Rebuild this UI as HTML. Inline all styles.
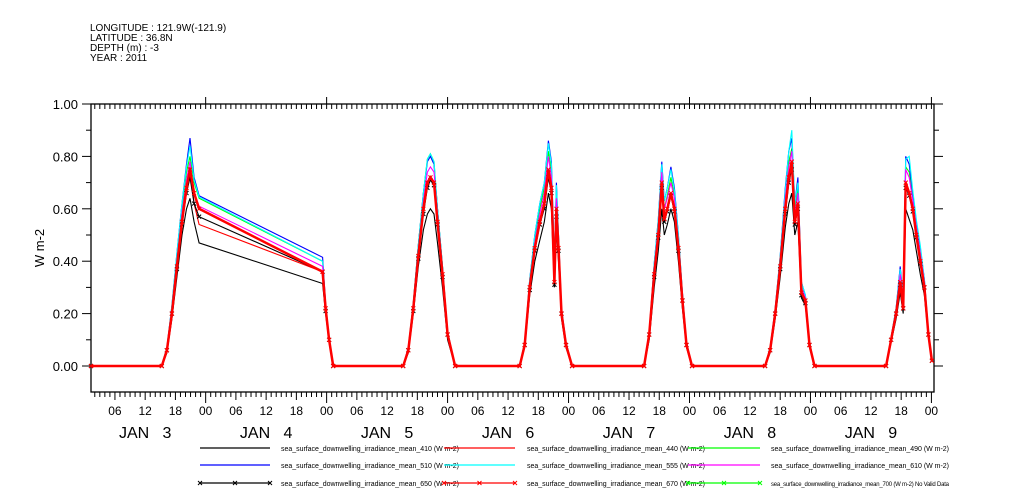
<!DOCTYPE html>
<html><head><meta charset="utf-8"><style>
body{margin:0;background:#fff;}
svg{display:block;font-family:"Liberation Sans",sans-serif;}
</style></head><body>
<svg id="chart" width="1009" height="504" viewBox="0 0 1009 504" xmlns="http://www.w3.org/2000/svg">
<g font-size="10" fill="#000">
<text x="90" y="31">LONGITUDE : 121.9W(-121.9)</text>
<text x="90" y="41">LATITUDE : 36.8N</text>
<text x="90" y="51">DEPTH (m) : -3</text>
<text x="90" y="61">YEAR : 2011</text>
</g>
<text x="44" y="248" font-size="13" text-anchor="middle" transform="rotate(-90 44 248)">W m-2</text>
<g id="axes"></g>
<g id="series"></g>
<g id="legend"></g>
</svg>
<script>
const times = [1.25,15.3,16.3,17.3,18.3,19.3,20.2,20.9,21.7,22.7,47.2,47.8,48.5,49.3,
63.2,64.2,65.2,66.2,67.2,68.0,68.6,69.3,70.0,71.0,72.0,73.5,
86.3,87.3,88.3,89.3,90.3,91.2,92.0,92.6,93.2,93.6,94.0,94.6,95.5,96.7,
111.0,112.0,113.0,113.8,114.5,115.0,115.6,116.3,117.0,117.8,118.6,119.4,120.5,
135.0,136.0,137.0,138.0,139.0,139.7,140.3,140.9,141.5,142.2,143.0,143.8,144.8,
159.0,160.0,161.0,161.8,162.4,162.9,163.6,164.3,165.0,165.8,166.6,167.4,168.1];
const s410 = [0,0,0.05,0.18,0.34,0.5,0.6,0.64,0.55,0.47,0.315,0.2,0.09,0,
0,0.05,0.2,0.38,0.52,0.58,0.6,0.58,0.47,0.3,0.1,0,
0,0.07,0.27,0.4,0.48,0.55,0.66,0.6,0.3,0.52,0.4,0.18,0.07,0,
0,0.1,0.3,0.44,0.6,0.5,0.54,0.6,0.55,0.4,0.22,0.07,0,
0,0.05,0.18,0.34,0.53,0.62,0.66,0.5,0.55,0.26,0.23,0.07,0,
0,0.09,0.18,0.28,0.2,0.6,0.56,0.52,0.44,0.35,0.27,0.11,0.02];
const s440 = [0,0,0.06,0.2,0.38,0.55,0.68,0.76,0.62,0.54,0.36,0.21,0.1,0,
0,0.06,0.22,0.42,0.6,0.7,0.72,0.70,0.55,0.35,0.12,0,
0,0.08,0.3,0.45,0.55,0.62,0.74,0.67,0.32,0.58,0.44,0.2,0.08,0,
0,0.12,0.35,0.5,0.69,0.56,0.6,0.66,0.6,0.45,0.25,0.08,0,
0,0.06,0.2,0.38,0.6,0.72,0.77,0.55,0.62,0.28,0.25,0.08,0,
0,0.1,0.2,0.32,0.22,0.7,0.66,0.6,0.5,0.4,0.3,0.12,0.02];
const s490 = [0,0,0.07,0.22,0.42,0.6,0.74,0.8,0.7,0.64,0.40,0.23,0.1,0,
0,0.07,0.24,0.46,0.66,0.79,0.81,0.78,0.6,0.38,0.13,0,
0,0.09,0.32,0.49,0.6,0.68,0.82,0.74,0.38,0.66,0.48,0.21,0.09,0,
0,0.13,0.38,0.54,0.75,0.6,0.65,0.72,0.65,0.48,0.27,0.09,0,
0,0.07,0.21,0.41,0.65,0.78,0.83,0.6,0.68,0.3,0.26,0.09,0,
0,0.11,0.21,0.36,0.25,0.76,0.74,0.64,0.54,0.44,0.32,0.13,0.02];
const s510 = [0,0,0.07,0.23,0.43,0.62,0.77,0.87,0.72,0.65,0.415,0.24,0.1,0,
0,0.07,0.24,0.46,0.66,0.78,0.8,0.77,0.6,0.38,0.13,0,
0,0.09,0.33,0.5,0.62,0.7,0.86,0.78,0.4,0.7,0.5,0.22,0.09,0,
0,0.13,0.39,0.56,0.78,0.63,0.68,0.76,0.68,0.5,0.28,0.09,0,
0,0.07,0.22,0.42,0.68,0.82,0.87,0.62,0.72,0.32,0.27,0.09,0,
0,0.11,0.22,0.38,0.26,0.8,0.77,0.66,0.55,0.45,0.33,0.13,0.02];
const s555 = [0,0,0.07,0.23,0.43,0.62,0.76,0.84,0.71,0.645,0.40,0.23,0.1,0,
0,0.07,0.24,0.46,0.66,0.79,0.81,0.78,0.6,0.38,0.13,0,
0,0.09,0.33,0.5,0.62,0.7,0.85,0.77,0.4,0.69,0.5,0.22,0.09,0,
0,0.13,0.39,0.56,0.77,0.63,0.68,0.75,0.67,0.5,0.28,0.09,0,
0,0.07,0.22,0.42,0.67,0.82,0.9,0.62,0.7,0.32,0.27,0.09,0,
0,0.11,0.22,0.37,0.26,0.79,0.8,0.67,0.56,0.46,0.33,0.13,0.02];
const s610 = [0,0,0.06,0.21,0.4,0.58,0.71,0.78,0.66,0.61,0.38,0.22,0.1,0,
0,0.07,0.23,0.44,0.63,0.74,0.76,0.74,0.58,0.37,0.12,0,
0,0.08,0.31,0.47,0.58,0.66,0.8,0.72,0.35,0.64,0.47,0.21,0.08,0,
0,0.12,0.37,0.53,0.74,0.6,0.64,0.7,0.64,0.47,0.26,0.08,0,
0,0.06,0.21,0.4,0.64,0.76,0.82,0.58,0.66,0.3,0.26,0.08,0,
0,0.1,0.21,0.35,0.25,0.75,0.72,0.63,0.53,0.43,0.32,0.12,0.02];
const s650 = [0,0,0.06,0.2,0.37,0.54,0.66,0.72,0.62,0.57,0.36,0.21,0.1,0,
0,0.06,0.21,0.41,0.58,0.68,0.71,0.69,0.54,0.34,0.12,0,
0,0.08,0.29,0.44,0.54,0.6,0.72,0.66,0.31,0.57,0.44,0.2,0.08,0,
0,0.12,0.34,0.49,0.68,0.55,0.59,0.65,0.59,0.44,0.25,0.08,0,
0,0.06,0.2,0.37,0.58,0.7,0.75,0.54,0.6,0.27,0.24,0.08,0,
0,0.1,0.2,0.31,0.22,0.68,0.65,0.59,0.49,0.39,0.3,0.12,0.02];
const s670 = [0,0,0.06,0.2,0.38,0.55,0.68,0.75,0.66,0.6,0.36,0.22,0.1,0,
0,0.06,0.22,0.42,0.6,0.7,0.72,0.70,0.55,0.35,0.12,0,
0,0.08,0.3,0.45,0.55,0.62,0.75,0.68,0.32,0.6,0.45,0.2,0.08,0,
0,0.12,0.35,0.5,0.7,0.56,0.6,0.66,0.6,0.45,0.25,0.08,0,
0,0.06,0.2,0.38,0.6,0.72,0.78,0.55,0.62,0.28,0.25,0.08,0,
0,0.1,0.2,0.32,0.22,0.7,0.66,0.6,0.5,0.4,0.3,0.12,0.02];
const yTicks = [0,0.2,0.4,0.6,0.8,1.0];
const yTickLabels = ["0.00","0.20","0.40","0.60","0.80","1.00"];
const dayLabels = ["JAN   3","JAN   4","JAN   5","JAN   6","JAN   7","JAN   8","JAN   9"];
const hourLabels = ["00","06","12","18"];
const legendNames = ["sea_surface_downwelling_irradiance_mean_410 (W m-2)","sea_surface_downwelling_irradiance_mean_440 (W m-2)","sea_surface_downwelling_irradiance_mean_490 (W m-2)","sea_surface_downwelling_irradiance_mean_510 (W m-2)","sea_surface_downwelling_irradiance_mean_555 (W m-2)","sea_surface_downwelling_irradiance_mean_610 (W m-2)","sea_surface_downwelling_irradiance_mean_650 (W m-2)","sea_surface_downwelling_irradiance_mean_670 (W m-2)","sea_surface_downwelling_irradiance_mean_700 (W m-2) No Valid Data"];

const NS="http://www.w3.org/2000/svg";
const L=91,R=934,T=104,B=392;
const tMin=1.25,pxPerHour=5.04;
function xs(t){return L+(t-tMin)*pxPerHour;}
function ys(v){return 366-v*262;}
function mk(tag,attrs,parent){const e=document.createElementNS(NS,tag);for(const k in attrs)e.setAttribute(k,attrs[k]);parent.appendChild(e);return e;}
const axes=document.getElementById('axes');
const ser=document.getElementById('series');
const leg=document.getElementById('legend');
const frame=mk('rect',{x:L,y:T,width:R-L,height:B-T,fill:'none',stroke:'#000','stroke-width':1.3},axes);


// y ticks
for(let v=0;v<=1.0001;v+=0.1){
  const y=ys(v);const major=Math.round(v*10)%2===0;
  const t1=mk('line',{x1:L-(major?9:5),x2:L,y1:y,y2:y,stroke:'#000'},axes);
  
  
  const t2=mk('line',{x1:R,x2:R+(major?9:5),y1:y,y2:y,stroke:'#000'},axes);
  
  
}
yTicks.forEach((v,i)=>{
  const tx=mk('text',{x:L-13,y:ys(v)+5,'font-size':13,'text-anchor':'end'},axes);
  tx.textContent=yTickLabels[i];
  
  
});
// x ticks hourly
for(let h=2;h<=168;h++){
  const x=xs(h);if(x>R)break;
  const isDay=h%24===0,is6=h%6===0;
  const len=isDay?11:(is6?8:5);
  const tb=mk('line',{x1:x,x2:x,y1:B,y2:B+len,stroke:'#000'},axes);
  
  
  const tt=mk('line',{x1:x,x2:x,y1:isDay?T-7:T,y2:T+5,stroke:'#000'},axes);
  
  
  if(is6){
    const lb=mk('text',{x:x,y:B+23,'font-size':12,'text-anchor':'middle'},axes);
    lb.textContent=hourLabels[(h%24)/6];
    
    
  }
}
dayLabels.forEach((d,i)=>{
  const dl=mk('text',{x:xs(i*24+12),y:B+46,'font-size':16,'text-anchor':'middle','xml:space':'preserve'},axes);
  dl.setAttribute('style','white-space:pre');
  dl.textContent=d;
  
  
});
// series
const seriesList=[
 {d:s410,c:'#000',x:false,n:'series-410'},
 {d:s440,c:'#f00',x:false,n:'series-440'},
 {d:s490,c:'#0f0',x:false,n:'series-490'},
 {d:s510,c:'#00f',x:false,n:'series-510'},
 {d:s555,c:'#0ff',x:false,n:'series-555'},
 {d:s610,c:'#f0f',x:false,n:'series-610'},
 {d:s650,c:'#000',x:true,n:'series-650'},
 {d:s670,c:'#f00',x:true,n:'series-670'}];
seriesList.forEach(s=>{
  const g=mk('g',{},ser);
  
  
  const pts=times.map((t,i)=>xs(t).toFixed(1)+','+ys(s.d[i]).toFixed(1)).join(' ');
  const pl=mk('polyline',{points:pts,fill:'none',stroke:s.c,'stroke-width':s.n==='series-670'?2.5:1.1},g);
  
  
  if(s.x){
    times.forEach((t,i)=>{
      const x=xs(t),y=ys(s.d[i]);
      const m=mk('path',{d:`M${x-2},${y-2}L${x+2},${y+2}M${x-2},${y+2}L${x+2},${y-2}`,stroke:s.c,'stroke-width':1},g);
      
      
    });
  }
});
// legend
const legColors=['#000','#f00','#0f0','#00f','#0ff','#f0f','#000','#f00','#0f0'];
const colLine=[[200,270],[444,515],[688,760]];
const colText=[281,527,771];
const rowY=[448,465,483];
legendNames.forEach((nm,i)=>{
  const col=i%3,row=Math.floor(i/3);
  const g=mk('g',{},leg);
  
  
  const y=rowY[row];
  mk('line',{x1:colLine[col][0],x2:colLine[col][1],y1:y,y2:y,stroke:legColors[i],'stroke-width':1.2},g);
  if(row===2){
    [colLine[col][0],(colLine[col][0]+colLine[col][1])/2,colLine[col][1]].forEach(x=>{
      mk('path',{d:`M${x-2},${y-2}L${x+2},${y+2}M${x-2},${y+2}L${x+2},${y-2}`,stroke:legColors[i]},g);
    });
  }
  const tx=mk('text',{x:colText[col],y:y+3,'font-size':7},g);
  if(i<8) tx.setAttribute('textLength',178); else {tx.setAttribute('textLength',178);tx.setAttribute('font-size',6);}
  tx.textContent=nm;
});
</script>
</body></html>
